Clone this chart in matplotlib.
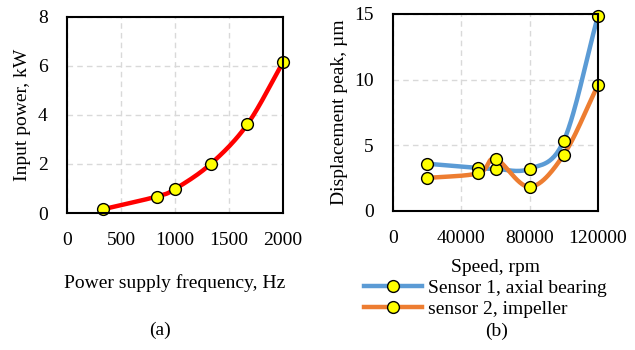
import numpy as np
import matplotlib.pyplot as plt

plt.rcParams['font.family'] = ['Liberation Serif', 'DejaVu Serif']
plt.rcParams['font.size'] = 14

# (a) input power vs frequency
freq = [330, 830, 1000, 1330, 1670, 2000]
power = [0.15, 0.67, 0.98, 2.0, 3.62, 6.15]

# (b) displacement peak vs speed
speed = [20000, 50000, 60000, 80000, 100000, 120000]
sensor1 = [3.57, 3.24, 3.18, 3.18, 5.33, 14.87]
sensor2 = [2.48, 2.85, 3.95, 1.80, 4.27, 9.58]


def smooth(x, y, n=30):
    # catmull-rom curve through the points, like excel's smoothed line
    x = np.asarray(x, float)
    y = np.asarray(y, float)
    px = np.concatenate([[2*x[0]-x[1]], x, [2*x[-1]-x[-2]]])
    py = np.concatenate([[2*y[0]-y[1]], y, [2*y[-1]-y[-2]]])
    t = np.linspace(0, 1, n)[:, None]
    outx, outy = [], []
    for i in range(1, len(px)-2):
        for p, out in ((px, outx), (py, outy)):
            p0, p1, p2, p3 = p[i-1], p[i], p[i+1], p[i+2]
            c = 0.5*((2*p1) + (-p0+p2)*t + (2*p0-5*p1+4*p2-p3)*t**2
                     + (-p0+3*p1-3*p2+p3)*t**3)
            out.append(c.ravel())
    return np.concatenate(outx), np.concatenate(outy)


fig = plt.figure(figsize=(6.35, 3.5), dpi=100)
ax1 = fig.add_axes([67/635, 137/350, 216/635, 196/350])
ax2 = fig.add_axes([393/635, 139.5/350, 205/635, 196.5/350])

mk = dict(marker='o', markersize=8.5, markerfacecolor='#FFFF00',
          markeredgecolor='black', markeredgewidth=1.0, linestyle='none')

sx, sy = smooth(freq, power)
ax1.plot(sx, sy, color='#FF0000', lw=3.2, solid_capstyle='round')
ax1.plot(freq, power, **mk)
ax1.set_xlim(0, 2000)
ax1.set_ylim(0, 8)
ax1.set_xticks([0, 500, 1000, 1500, 2000])
ax1.set_yticks([0, 2, 4, 6, 8])
ax1.set_ylabel('Input power, kW', labelpad=5)
ax1.set_xlabel('Power supply frequency, Hz', labelpad=18)

c1, c2 = '#5B9BD5', '#ED7D31'
bx, by = smooth(speed, sensor1)
ox, oy = smooth(speed, sensor2)
ax2.plot(bx, by, color=c1, lw=3.2)
ax2.plot(ox, oy, color=c2, lw=3.2)
ax2.plot(speed, sensor1, **mk)
ax2.plot(speed, sensor2, **mk)
ax2.set_xlim(0, 120000)
ax2.set_ylim(0, 15)
ax2.set_xticks([0, 40000, 80000, 120000])
ax2.set_yticks([0, 5, 10, 15])
ax2.set_ylabel('Displacement peak, µm', labelpad=4)
ax2.set_xlabel('Speed, rpm', labelpad=9)

for ax in (ax1, ax2):
    ax.grid(True, color='#D9D9D9', linestyle=(0, (4, 3)), lw=1.0)
    ax.set_axisbelow(True)
    ax.tick_params(length=0, pad=14)
    for s in ax.spines.values():
        s.set_linewidth(1.5)
        s.set_color('black')
    for ln in ax.lines:
        ln.set_clip_on(False)

h1, = ax2.plot([], [], color=c1, lw=3.2, marker='o', markersize=8.5,
               markerfacecolor='#FFFF00', markeredgecolor='black')
h2, = ax2.plot([], [], color=c2, lw=3.2, marker='o', markersize=8.5,
               markerfacecolor='#FFFF00', markeredgecolor='black')
fig.legend([h1, h2], ['Sensor 1, axial bearing', 'sensor 2, impeller'],
           loc='upper left', bbox_to_anchor=(364/635, 1-279/350),
           frameon=False, handlelength=3.0, handletextpad=0.3,
           labelspacing=0.2, borderpad=0, borderaxespad=0, fontsize=14)

fig.text(160/635, 1-330/350, '(a)', ha='center', va='center')
fig.text(497/635, 1-331/350, '(b)', ha='center', va='center')

fig.savefig('out.png', dpi=100)
